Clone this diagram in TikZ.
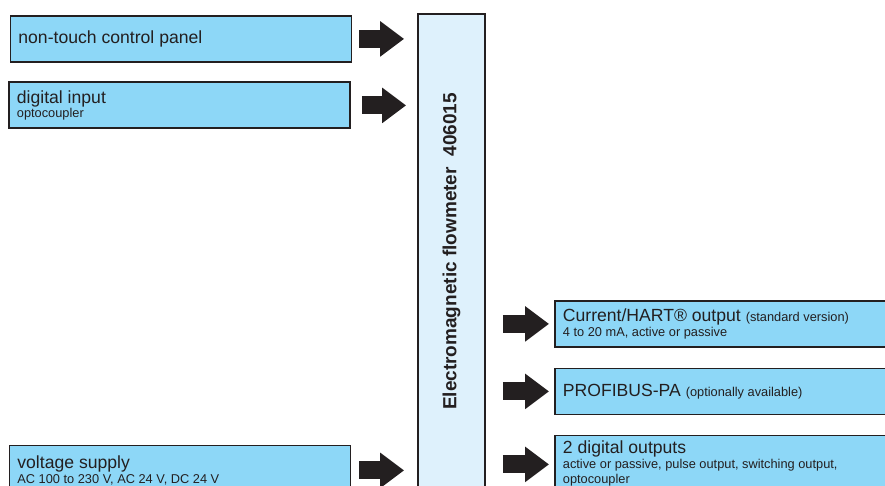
\documentclass[tikz,border=0pt]{standalone}
\usepackage{fontspec}
\setmainfont{Liberation Sans}
\usetikzlibrary{arrows.meta}
\definecolor{boxblue}{HTML}{8DD7F7}
\definecolor{meterblue}{HTML}{DEF1FC}
\definecolor{linegray}{HTML}{231F20}
\newcommand{\smalltext}[1]{{\fontsize{12.8}{14.7}\selectfont #1}}
\tikzset{infobox/.style={draw=linegray, fill=boxblue, line width=1.8pt, anchor=north west,
    text width=325pt, inner xsep=8pt, inner ysep=2pt, minimum height=46pt, align=flush left,
    text=linegray, font=\fontsize{17.6}{14.7}\selectfont}}
\tikzset{meterbox/.style={draw=linegray, fill=meterblue, line width=1.8pt,
    minimum width=67pt, minimum height=475pt, inner sep=0pt, text=linegray,
    font=\fontsize{19}{22}\selectfont\bfseries}}
\tikzset{bigarrow/.style={draw=linegray, line width=18pt, -{Triangle[length=24pt,width=34pt]}}}

\begin{document}
\begin{tikzpicture}[x=1pt,y=-1pt]
\useasboundingbox (0,0) rectangle (885,486);
\clip (0,0) rectangle (885,486);

\node[meterbox] (meter) at (451.5,251.5) {\rotatebox{90}{Electromagnetic flowmeter\ \ 406015}};

% inputs
\node[infobox] (panel) at (9.5,15) {non-touch control panel};
\node[infobox] (dinput) at (8,81.5) {digital input\\\smalltext{optocoupler}};
\node[infobox, minimum height=50pt] (supply) at (8.5,444.5) {voltage supply\\\smalltext{AC 100 to 230 V, AC 24 V, DC 24 V}};

% outputs
\node[infobox] (hart) at (554,300) {Current/HART® output \smalltext{(standard version)}\\\smalltext{4 to 20 mA, active or passive}};
\node[infobox] (profibus) at (554,367.5) {PROFIBUS-PA \smalltext{(optionally available)}};
\node[infobox, minimum height=56pt] (digout) at (554,434.5) {2 digital outputs\\\smalltext{active or passive, pulse output, switching output,}\\\smalltext{optocoupler}};
\coordinate (digin) at ([yshift=-1pt]digout.west);

\draw[bigarrow, shorten <=7pt, shorten >=13pt] (panel.east) -- (panel.east -| meter.west);
\draw[bigarrow, shorten <=11pt, shorten >=11pt] (dinput.east) -- (dinput.east -| meter.west);
\draw[bigarrow, shorten <=8pt, shorten >=13pt] (supply.east) -- (supply.east -| meter.west);

\draw[bigarrow, shorten <=17pt, shorten >=5pt] (meter.east |- hart.west) -- (hart.west);
\draw[bigarrow, shorten <=17pt, shorten >=5pt] (meter.east |- profibus.west) -- (profibus.west);
\draw[bigarrow, shorten <=17pt, shorten >=5pt] (meter.east |- digin) -- (digin);

\end{tikzpicture}
\end{document}
